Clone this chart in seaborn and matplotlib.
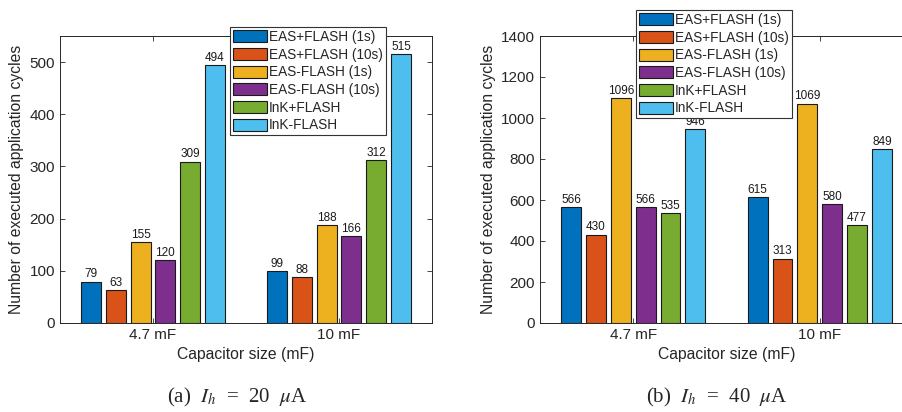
import pandas as pd
import matplotlib.pyplot as plt
import seaborn as sns

caps = ["4.7 mF", "10 mF"]
methods = ["EAS+FLASH (1s)", "EAS+FLASH (10s)", "EAS-FLASH (1s)",
           "EAS-FLASH (10s)", "InK+FLASH", "InK-FLASH"]
# values per method, [4.7 mF, 10 mF]
cycles_20uA = [[79, 99], [63, 88], [155, 188], [120, 166], [309, 312], [494, 515]]
cycles_40uA = [[566, 615], [430, 313], [1096, 1069], [566, 580], [535, 477], [946, 849]]
colors = ["#0072BD", "#D95319", "#EDB120", "#7E2F8E", "#77AC30", "#4DBEEE"]

sns.set_style("ticks")
plt.rcParams["font.family"] = ["Liberation Sans", "DejaVu Sans"]
plt.rcParams["mathtext.fontset"] = "stix"
txt = "#262626"


def to_df(vals):
    rows = []
    for m, v in zip(methods, vals):
        for c, y in zip(caps, v):
            rows.append({"cap": c, "method": m, "cycles": y})
    return pd.DataFrame(rows)


fig = plt.figure(figsize=(9.03, 4.12), dpi=100)
ax1 = fig.add_axes([60 / 903, 89 / 412, 372 / 903, 287 / 412])
ax2 = fig.add_axes([540 / 903, 89 / 412, 373 / 903, 287 / 412])

panels = [(ax1, cycles_20uA, 550, range(0, 501, 100), 0.2547, 0.9345, 237,
           "(a)  $I_h$  =  20  $\\mu$A"),
          (ax2, cycles_40uA, 1400, range(0, 1401, 200), 0.7043, 0.9757, 717,
           "(b)  $I_h$  =  40  $\\mu$A")]

for ax, vals, ymax, yt, lx, ly, cx, cap in panels:
    df = to_df(vals)
    sns.barplot(data=df, x="cap", y="cycles", hue="method", hue_order=methods,
                palette=colors, width=0.8, gap=0.2, edgecolor="#1a1a1a",
                linewidth=0.8, saturation=1, errorbar=None, ax=ax)
    for cont in ax.containers:
        ax.bar_label(cont, fontsize=8.5, padding=1, color="#1a1a1a")
    ax.set_xlim(-0.5, 1.5)
    ax.set_ylim(0, ymax)
    ax.set_yticks(list(yt))
    ax.set_xlabel("Capacitor size (mF)", fontsize=11.3, color=txt, labelpad=4)
    ax.set_ylabel("Number of executed application cycles", fontsize=11.3, color=txt, labelpad=4)
    ax.tick_params(direction="in", top=True, right=True, labelsize=11, colors=txt,
                   length=3.5, width=0.6)
    for s in ax.spines.values():
        s.set_visible(True)
        s.set_color(txt)
        s.set_linewidth(0.7)
    ax.legend_.remove()
    h, l = ax.get_legend_handles_labels()
    leg = fig.legend(h, l, loc="upper left", bbox_to_anchor=(lx, ly), fontsize=9.8,
                     frameon=True, fancybox=False, edgecolor="#333333", framealpha=1,
                     handlelength=2.5, handleheight=0.95, handletextpad=0.12,
                     labelspacing=0.27, borderpad=0.22, borderaxespad=0)
    leg.get_frame().set_linewidth(0.8)
    for t in leg.get_texts():
        t.set_color(txt)
    fig.text(cx / 903, 15 / 412, cap, ha="center", va="center", fontsize=15,
             family="Liberation Serif")

fig.savefig("out.png", dpi=100)
